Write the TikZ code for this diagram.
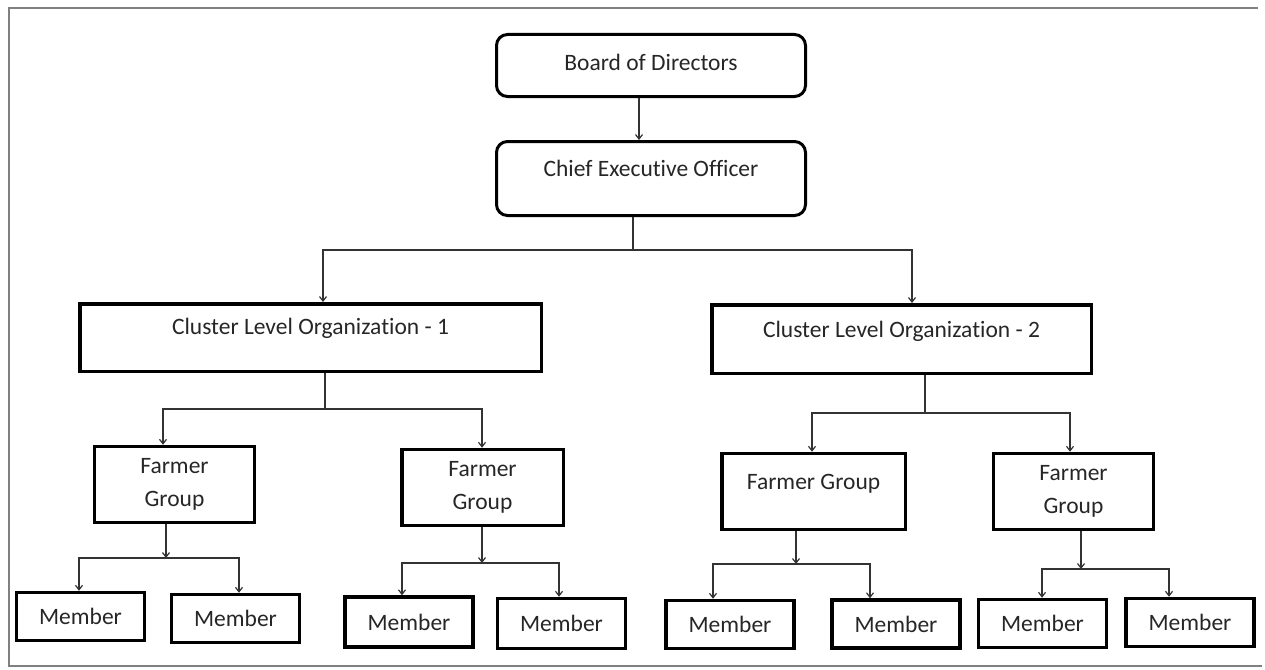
\documentclass[tikz,border=0pt]{standalone}
\usepackage{fontspec}
\setmainfont{Carlito}[Ligatures=NoCommon]
\usetikzlibrary{arrows.meta}
\definecolor{txt}{HTML}{262626}
\definecolor{ln}{HTML}{333333}
\definecolor{framec}{HTML}{808080}
\begin{document}
\begin{tikzpicture}[x=1pt,y=-1pt,
  box/.style={draw=black, line width=3.5pt, inner sep=0pt, font=\fontsize{23.5}{33}\selectfont, text=txt, align=center},
  rbox/.style={box, line width=3pt, rounded corners=11pt},
  mbox/.style={box, minimum width=128, minimum height=48},
  fbox/.style={box, minimum width=160, minimum height=76},
  conn/.style={draw=ln, line width=1.4pt},
  arr/.style={conn, -{Straight Barb[length=4.5pt,width=7pt,line width=1.2pt]}},
]
\useasboundingbox (0,0) rectangle (1265,669);
\draw[framec, line width=2pt] (1258,8) -- (9,8) -- (9,666) -- (1262,666);

\node[rbox, minimum width=309, minimum height=62] (bod) at (651,65.5) {\raisebox{7pt}{Board of Directors}};
\node[rbox, minimum width=309, minimum height=74] (ceo) at (651,178.5) {\raisebox{21pt}{Chief Executive Officer}};
\node[box, minimum width=461.5, minimum height=67.5] (clo1) at (310.5,337.5) {\raisebox{21.6pt}{Cluster Level Organization - 1}};
\node[box, minimum width=379.5, minimum height=68.5] (clo2) at (901.5,339) {\raisebox{18.6pt}{Cluster Level Organization - 2}};

\node[fbox] (fg1) at (174.5,484.5) {Farmer\\Group};
\node[fbox, minimum width=161.5] (fg2) at (482.5,487.5) {Farmer\\Group};
\node[fbox, minimum width=183.5] (fg3) at (813.5,491.5) {\raisebox{19.6pt}{Farmer Group}};
\node[fbox] (fg4) at (1073.5,491.5) {Farmer\\Group};

\node[mbox] (m1) at (80.5,616.5) {Member};
\node[mbox] (m2) at (235.5,618.5) {Member};
\node[mbox, minimum height=50] (m3) at (409,622) {Member};
\node[mbox, minimum height=50] (m4) at (561.5,623.5) {Member};
\node[mbox] (m5) at (730,624.5) {Member};
\node[mbox] (m6) at (896,624) {Member};
\node[mbox] (m7) at (1042.5,623.5) {Member};
\node[mbox] (m8) at (1190,622.5) {Member};

\draw[arr] ([xshift=-12]bod.south) -- ([xshift=-12]ceo.north);

\coordinate (j0) at (633,250);
\draw[conn] (ceo.south -| j0) -- (j0);
\draw[arr] (j0) -| ([xshift=12.5]clo1.north);
\draw[arr] (j0) -| ([xshift=10.5]clo2.north);

\coordinate (j1) at (325,409);
\draw[conn] (clo1.south -| j1) -- (j1);
\draw[arr] (j1) -| ([xshift=-11.5]fg1.north);
\draw[arr] (j1) -| ([xshift=-0.5]fg2.north);

\coordinate (j2) at (925,413);
\draw[conn] (clo2.south -| j2) -- (j2);
\draw[arr] (j2) -| ([xshift=-1.5]fg3.north);
\draw[arr] (j2) -| ([xshift=-3.5]fg4.north);

\coordinate (k1) at (166,558);
\draw[arr] (fg1.south -| k1) -- (k1);
\draw[arr] (k1) -| ([xshift=-1.5]m1.north);
\draw[arr] (k1) -| ([xshift=3.5]m2.north);

\coordinate (k2) at (482,563);
\draw[arr] (fg2.south -| k2) -- (k2);
\draw[arr] (k2) -| ([xshift=-7]m3.north);
\draw[arr] (k2) -| ([xshift=-2.5]m4.north);

\coordinate (k3) at (796,564);
\draw[arr] (fg3.south -| k3) -- (k3);
\draw[arr] (k3) -| ([xshift=-17]m5.north);
\draw[arr] (k3) -| ([xshift=-26]m6.north);

\coordinate (k4) at (1081,569);
\draw[arr] (fg4.south -| k4) -- (k4);
\draw[arr] (k4) -| ([xshift=-0.5]m7.north);
\draw[arr] (k4) -| ([xshift=-21]m8.north);
\end{tikzpicture}
\end{document}
